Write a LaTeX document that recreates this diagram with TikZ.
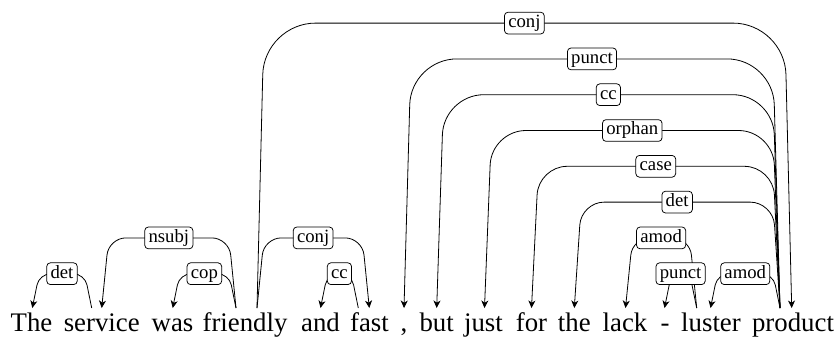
\documentclass[tikz,border=0pt]{standalone}
\usepackage{fontspec}
\setmainfont{Liberation Serif}
\usetikzlibrary{arrows.meta,calc}
\tikzset{
  word/.style={anchor=base, inner sep=0pt, font=\fontsize{26.8}{30}\selectfont},
  deplabel/.style={draw, fill=white, rounded corners=3.5pt, line width=0.75pt,
    inner xsep=3.8pt, inner ysep=2.4pt, text height=12.8pt, text depth=4.1pt,
    font=\fontsize{18.7}{20}\selectfont},
  depedge/.style={line width=0.8pt, -{Stealth[length=7.5pt,width=7pt,inset=2.2pt]}}
}
% #1 start x, #2 end x, #3 level y, #4 label, #5 name
\newcommand{\dedge}[5]{%
  \pgfmathsetmacro{\dsgn}{(#2>#1) ? 1 : -1}%
  \pgfmathsetmacro{\drad}{6+0.16*(308-#3)}%
  \pgfmathsetmacro{\dmid}{(#1+#2)/2}%
  \pgfmathsetmacro{\dxa}{#1+7*\dsgn}%
  \pgfmathsetmacro{\dxb}{#2-7*\dsgn}%
  \coordinate (#5-s) at (#1,308);
  \coordinate (#5-e) at (#2,308);
  \coordinate (#5-a) at (\dxa,#3);
  \coordinate (#5-b) at (\dxb,#3);
  \draw[depedge, rounded corners=\drad pt] (#5-s) -- (#5-a) -- (#5-b) -- (#5-e);
  \node[deplabel] (#5-lab) at (\dmid,#3) {#4};
}
\begin{document}
\begin{tikzpicture}[x=1pt,y=-1pt]
\useasboundingbox (0,0) rectangle (834,338);
% words
\node[word] (w1) at (31.5,331.5) {The};
\node[word] (w2) at (101.7,331.5) {service};
\node[word] (w3) at (172.5,331.5) {was};
\node[word] (w4) at (245,331.5) {friendly};
\node[word] (w5) at (320.5,331.5) {and};
\node[word] (w6) at (369.5,331.5) {fast};
\node[word] (w7) at (404,331.5) {,};
\node[word] (w8) at (436.7,331.5) {but};
\node[word] (w9) at (483.5,331.5) {just};
\node[word] (w10) at (531.5,331.5) {for};
\node[word] (w11) at (574.3,331.5) {the};
\node[word] (w12) at (625,331.5) {lack};
\node[word] (w13) at (665,331.5) {-};
\node[word] (w14) at (711,331.5) {luster};
\node[word] (w15) at (793,331.5) {product};
% edges
\dedge{91.7}{32.3}{273.7}{det}{e1}
\dedge{236}{101.7}{237.9}{nsubj}{e2}
\dedge{236}{172.7}{273.7}{cop}{e3}
\dedge{257}{791.7}{23.1}{conj}{e4}
\dedge{257}{369.3}{237.9}{conj}{e5}
\dedge{358.3}{320.5}{273.7}{cc}{e6}
\dedge{780}{404}{58.9}{punct}{e7}
\dedge{780}{436.7}{94.7}{cc}{e8}
\dedge{780}{484.5}{130.5}{orphan}{e9}
\dedge{780}{531.5}{166.3}{case}{e10}
\dedge{780}{574.3}{202.1}{det}{e11}
\dedge{696.7}{625.5}{237.9}{amod}{e12}
\dedge{696.7}{664.5}{273.7}{punct}{e13}
\dedge{780}{710.5}{273.7}{amod}{e14}
\end{tikzpicture}
\end{document}
